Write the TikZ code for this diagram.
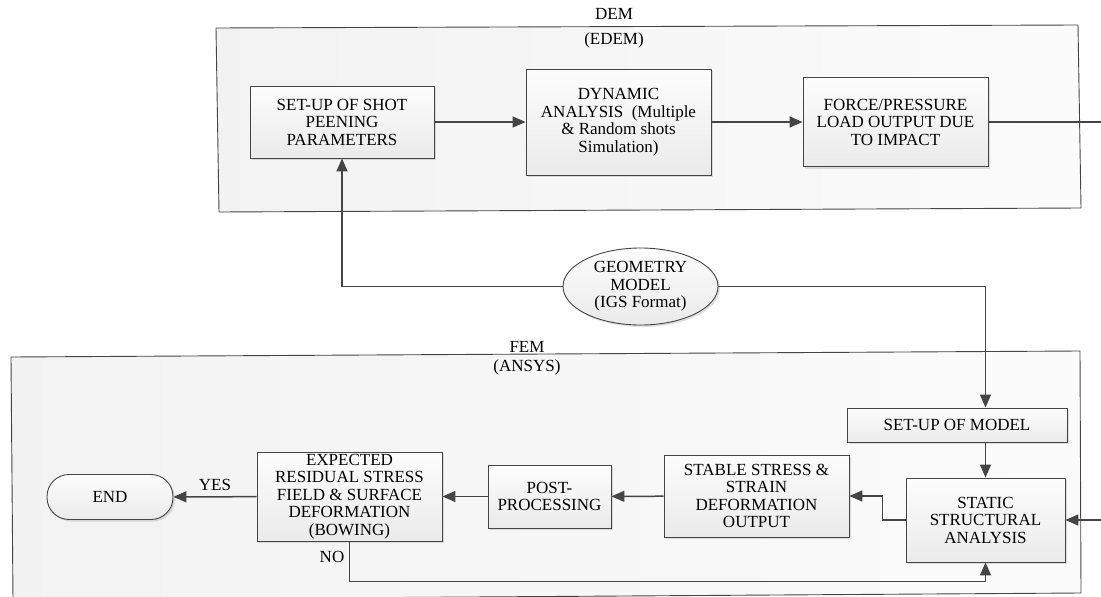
\documentclass[tikz,border=0pt]{standalone}
\usepackage{fontspec}
\setmainfont{Liberation Serif}
\newfontfamily\timesfont{Liberation Serif}
\usepackage{tikz}
\usetikzlibrary{arrows.meta,shadows,shapes.geometric}
\definecolor{lineg}{HTML}{454545}

\begin{document}
\begin{tikzpicture}[x=1pt,y=-1pt,
    every node/.style={font=\timesfont\fontsize{17}{17.5}\selectfont},
    blk/.style={draw=lineg, line width=0.9pt, top color=gray!2, bottom color=gray!16,
      align=center, inner sep=0pt,
      drop shadow={opacity=0.25, shadow xshift=2pt, shadow yshift=-2pt}},
    flow/.style={draw=lineg, line width=1.5pt, -{Triangle[length=13pt,width=11pt]}},
    link/.style={draw=lineg, line width=1.5pt},
    frame/.style={draw=lineg, line width=0.9pt, left color=gray!10, right color=gray!3}]
  \useasboundingbox (0,0) rectangle (1101,597);
  \clip (0,0) rectangle (1101,597);

  \draw[frame] (216,28) -- (1078,25) -- (1081,208) -- (219,212) -- cycle;
  \draw[frame] (11,357) -- (1080,351) -- (1081,593) -- (13,600) -- cycle;
  \node (demlbl)  at (614,14)  {DEM};
  \node (edemlbl) at (614,40)  {(EDEM)};
  \node (femlbl)  at (527,347) {FEM};
  \node (anslbl)  at (527,367) {(ANSYS)};

  \node[blk, minimum width=184, minimum height=72]  (setup)  at (342,122)   {SET-UP OF SHOT\\PEENING\\PARAMETERS};
  \node[blk, minimum width=185, minimum height=106] (dyn)    at (618.5,122) {DYNAMIC\\ANALYSIS\ \ (Multiple\\\& Random shots\\Simulation)};
  \node[blk, minimum width=185, minimum height=89]  (force)  at (895.5,122) {FORCE/PRESSURE\\LOAD OUTPUT DUE\\TO IMPACT};
  \node[blk, ellipse, minimum width=155, minimum height=77] (geo) at (640.5,286.5) {GEOMETRY\\MODEL\\(IGS Format)};
  \node[blk, minimum width=220, minimum height=34]  (model)  at (957,425)    {SET-UP OF MODEL};
  \node[blk, minimum width=159, minimum height=84]  (static) at (985.5,520)  {STATIC\\STRUCTURAL\\ANALYSIS};
  \node[blk, minimum width=185, minimum height=82]  (stable) at (756.5,496)  {STABLE STRESS \&\\STRAIN\\DEFORMATION\\OUTPUT};
  \node[blk, minimum width=123, minimum height=63]  (post)   at (549.5,496.5) {POST-\\PROCESSING};
  \node[blk, minimum width=185, minimum height=89]  (expect) at (349.5,496.5) {EXPECTED\\RESIDUAL STRESS\\FIELD \& SURFACE\\DEFORMATION\\(BOWING)};
  \node[blk, rounded corners=22pt, minimum width=126, minimum height=45] (end) at (110,497) {END};

  \coordinate (outR) at (1110,122);
  \coordinate (inR)  at (1110,520);

  \draw[flow] (setup) -- (dyn);
  \draw[flow] (dyn) -- (force);
  \draw[link] (force) -- (outR);
  \draw[flow] (geo.west) -| (setup.south);
  \draw[flow] (geo.east) -| (static.center |- model.north);
  \draw[flow] (static.north |- model.south) -- (static.north);
  \draw[flow] (inR) -- (static.east);
  \draw[flow] (static.west) -- ++(-23,0) |- (stable.east);
  \draw[flow] (stable) -- (post);
  \draw[flow] (post) -- (expect);
  \draw[flow] (expect) -- node[above=2pt] (yes) {YES} (end);
  \draw[flow] (expect.south) -- ++(0,40) -| (static.south);
  \node (no) at (332,557) {NO};
\end{tikzpicture}
\end{document}
